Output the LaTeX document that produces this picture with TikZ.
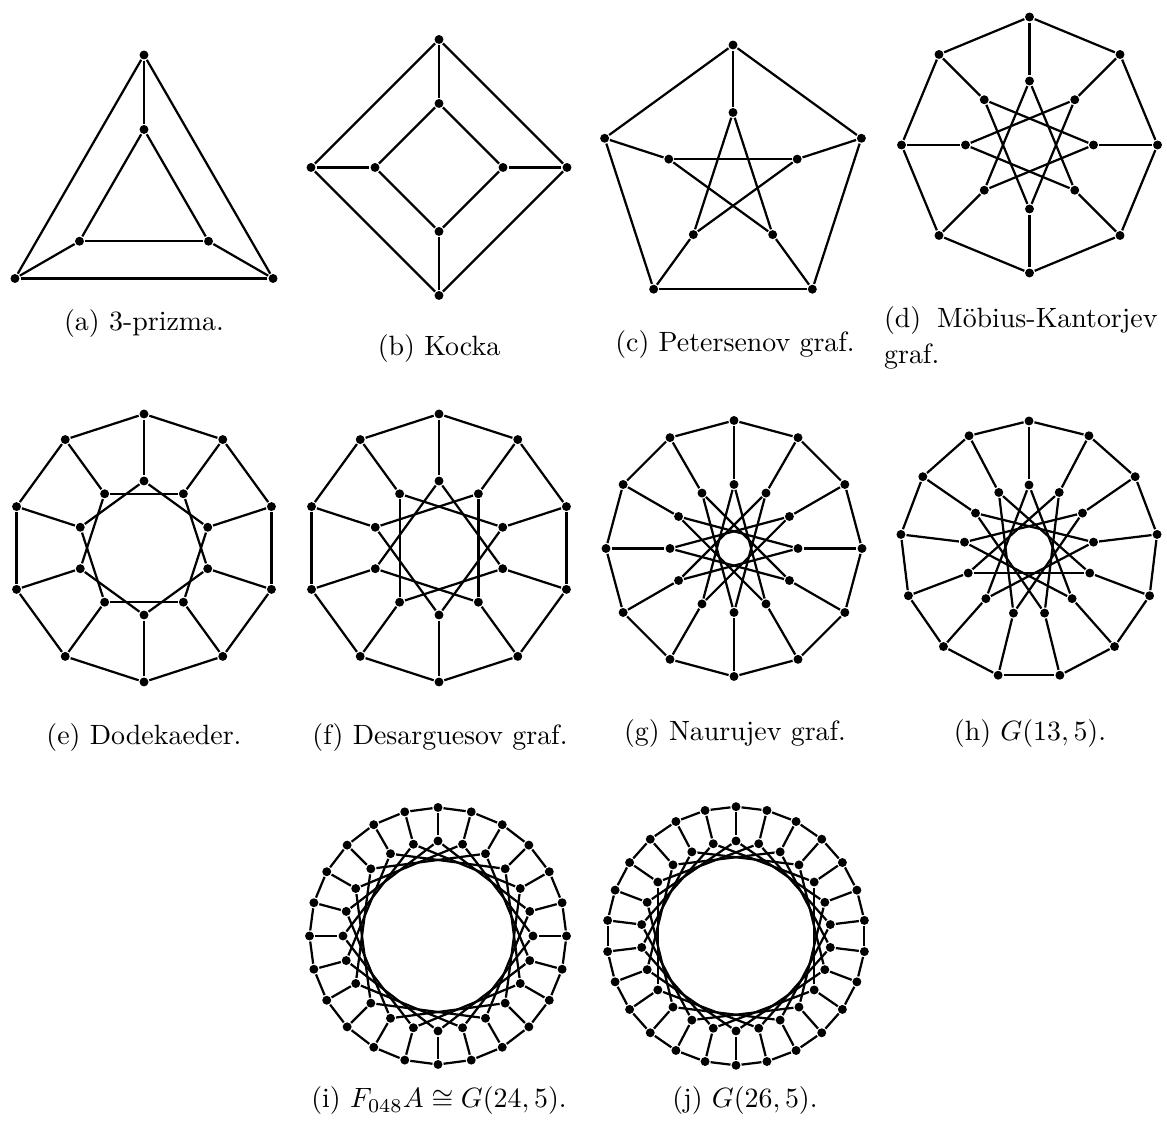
\documentclass[tikz,border=0pt]{standalone}
\usepackage{amsmath, amssymb}
\usepackage{tikz}
\usetikzlibrary{calc}

\tikzset{
  vtx/.style={circle, fill=black, inner sep=0pt, minimum size=3.2pt},
  capt/.style={inner sep=0pt, font=\fontsize{10}{12.9}\selectfont}
}

% posplosen Petersenov graf G(n,k): ime, n, k, cx, cy, R, r
\newcommand{\gpgraf}[7]{%
  \foreach \i in {1,...,#2}{
    \node[vtx] (#1o\i) at ($(#4,#5)+({90+360*(\i-1)/#2}:#6)$) {};
    \node[vtx] (#1i\i) at ($(#4,#5)+({90+360*(\i-1)/#2}:#7)$) {};
  }
  \foreach \i in {1,...,#2}{
    \pgfmathtruncatemacro{\nxt}{mod(\i,#2)+1}
    \pgfmathtruncatemacro{\skp}{mod(\i-1+#3,#2)+1}
    \draw (#1o\i) -- (#1o\nxt);
    \draw (#1o\i) -- (#1i\i);
    \draw (#1i\i) -- (#1i\skp);
  }
}

\begin{document}
\begin{tikzpicture}[x=0.3584pt, y=0.3584pt, line width=0.8pt, line join=round]
  \useasboundingbox (0,0) rectangle (1167,1135);
  \gpgraf{a}{3}{1}{144}{931}{149}{74.5}
  \gpgraf{b}{4}{1}{439}{967.5}{128}{64}
  \gpgraf{c}{5}{2}{733}{955}{135}{67.5}
  \gpgraf{d}{8}{3}{1029.5}{990}{128}{64}
  \gpgraf{e}{10}{2}{144}{587}{134}{67}
  \gpgraf{f}{10}{3}{439}{587}{134}{67}
  \gpgraf{g}{12}{5}{734}{586.5}{128}{64}
  \gpgraf{h}{13}{5}{1029}{585}{129}{65}
  \gpgraf{i}{24}{5}{438}{199}{128.5}{95}
  \gpgraf{j}{26}{5}{736}{199}{129.3}{95}
  \node[capt] (cap-a) at (144,811) {(a) 3-prizma.};
  \node[capt] (cap-b) at (439,786) {(b) Kocka};
  \node[capt] (cap-c) at (735,790) {(c) Petersenov graf.};
  \node[capt, anchor=north west, text width=98pt, align=justify] (cap-d) at (883,830) {(d) Möbius-Kantorjev graf.};
  \node[capt] (cap-e) at (144,397) {(e) Dodekaeder.};
  \node[capt] (cap-f) at (440,397) {(f) Desarguesov graf.};
  \node[capt] (cap-g) at (735,401) {(g) Naurujev graf.};
  \node[capt] (cap-h) at (1030,401) {(h) $G(13,5)$.};
  \node[capt] (cap-i) at (439,34) {(i) $F_{048}A\cong G(24,5)$.};
  \node[capt] (cap-j) at (745,34) {(j) $G(26,5)$.};
\end{tikzpicture}
\end{document}
